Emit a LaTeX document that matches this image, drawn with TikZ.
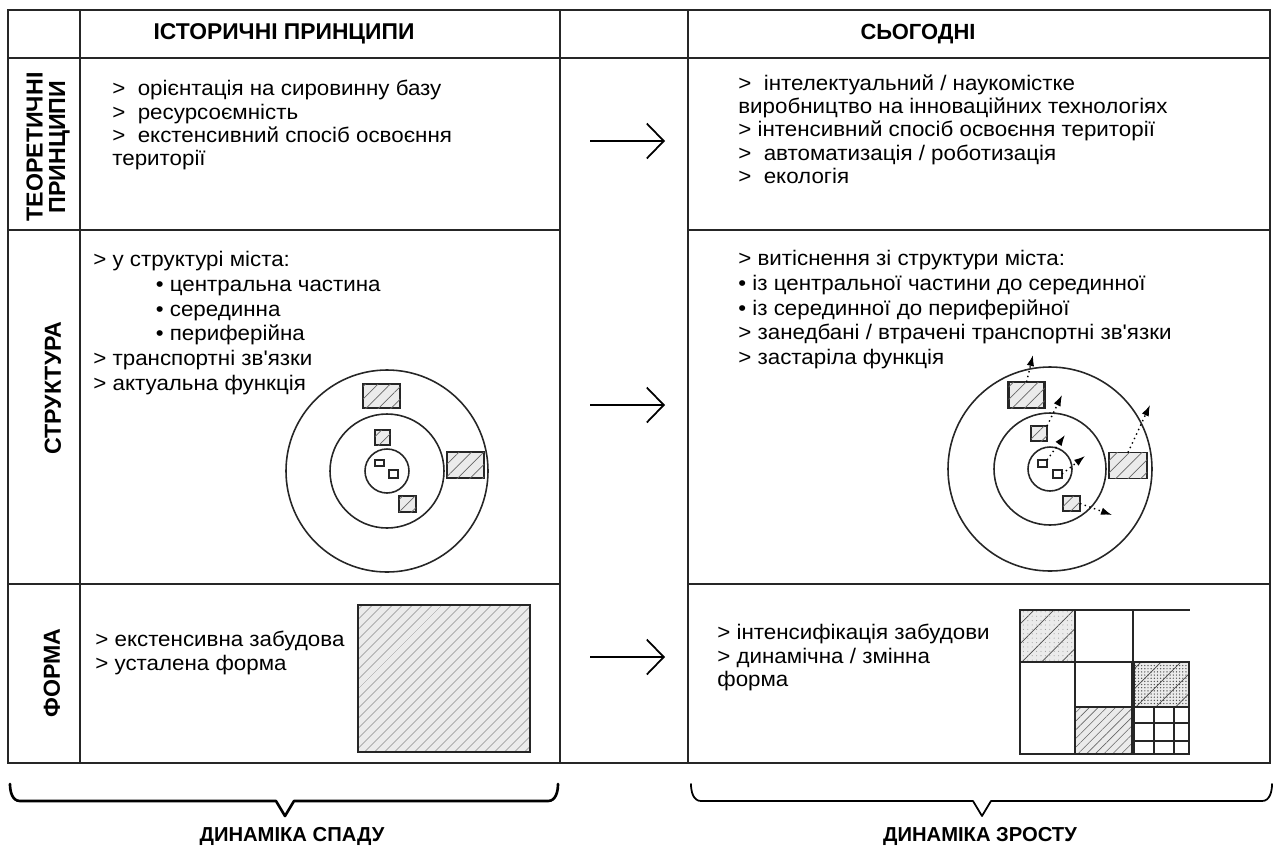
\documentclass[tikz,border=0pt]{standalone}
\usepackage{fontspec}
\setmainfont{Liberation Sans}
\newfontfamily\bodyfont[FakeStretch=1.06]{Liberation Sans}
\usetikzlibrary{arrows.meta, patterns.meta, positioning}

\tikzset{
    tableline/.style={line width=0.9pt, black!85},
    txt/.style={anchor=north west, align=left, inner sep=0pt, font=\bodyfont\fontsize{12}{13.3}\selectfont},
    txtwide/.style={txt, font=\bodyfont\fontsize{12}{14.1}\selectfont},
    headtxt/.style={inner sep=0pt, font=\fontsize{13}{15}\selectfont\bfseries},
    rowlabel/.style={inner sep=0pt, rotate=90, align=center, font=\fontsize{13.2}{12.8}\selectfont\bfseries},
    ring/.style={line width=0.9pt, black!85},
    hatchbox/.style={draw=black!85, line width=0.8pt, rectangle, inner sep=0pt, outer sep=0pt, fill=black!8,
        postaction={pattern color=black!60, pattern={Lines[angle=45, distance=5pt, line width=0.4pt]}}},
    tinybox/.style={draw=black!85, line width=0.8pt, rectangle, inner sep=0pt, outer sep=0pt, fill=white},
    shiftarrow/.style={dotted, line width=0.8pt, -{Latex[length=2.2mm, width=1.5mm]}},
    steparrow/.style={line width=1pt, -{Straight Barb[length=3.4mm, width=7mm]}},
    bracepath/.style={line width=1.5pt, line cap=round, line join=round}
}

\begin{document}
\begin{tikzpicture}[x=0.02cm, y=-0.02cm]
    \def\px{0.02cm}
    \useasboundingbox (0,0) rectangle (1278,849);

    % Table frame
    \draw[tableline] (8,10) rectangle (1270,763);
    \draw[tableline] (8,58) -- (1270,58);
    \draw[tableline] (8,230) -- (560,230) (688,230) -- (1270,230);
    \draw[tableline] (8,584) -- (560,584) (688,584) -- (1270,584);
    \draw[tableline] (80,10) -- (80,763);
    \draw[tableline] (560,10) -- (560,763);
    \draw[tableline] (688,10) -- (688,763);

    % Headers
    \node[headtxt] (hhist) at (284,34) {ІСТОРИЧНІ ПРИНЦИПИ};
    \node[headtxt, font=\fontsize{12.5}{15}\selectfont\bfseries] (htoday) at (918,34) {СЬОГОДНІ};
    \node[rowlabel] (lbltheory) at (48,147) {ТЕОРЕТИЧНІ\\ПРИНЦИПИ};
    \node[rowlabel] (lblstruct) at (53,388) {СТРУКТУРА};
    \node[rowlabel] (lblform) at (52,673) {ФОРМА};

    % Theory row
    \node[txt] (theoryhist) at (112,80) {>~~орієнтація на сировинну базу\\>~~ресурсоємність\\>~~екстенсивний спосіб освоєння\\території};
    \node[txt] (theorytoday) at (738,74) {>~~інтелектуальний / наукомістке\\виробництво на інноваційних технологіях\\> інтенсивний спосіб освоєння території\\>~~автоматизація / роботизація\\>~~екологія};

    % Structure row
    \node[txtwide] (structhist) at (93,251) {> у структурі міста:\\\hspace*{1.25cm}• центральна частина\\\hspace*{1.25cm}• серединна\\\hspace*{1.25cm}• периферійна\\> транспортні зв'язки\\> актуальна функція};
    \node[txtwide] (structtoday) at (738,250) {> витіснення зі структури міста:\\• із центральної частини до серединної\\• із серединної до периферійної\\> занедбані / втрачені транспортні зв'язки\\> застаріла функція};

    % City rings, historic
    \draw[ring] (387,471) circle[radius=101*\px];
    \draw[ring] (387,471) circle[radius=57*\px];
    \draw[ring] (387,471) circle[radius=22*\px];
    \node[hatchbox, minimum width=37*\px, minimum height=24*\px] (hbox1) at (381.5,396) {};
    \node[hatchbox, minimum width=37*\px, minimum height=26*\px] (hbox2) at (465.5,465) {};
    \node[hatchbox, minimum width=15*\px, minimum height=15*\px] (hbox3) at (382.5,437.5) {};
    \node[hatchbox, minimum width=17*\px, minimum height=16*\px] (hbox4) at (407.5,504) {};
    \node[tinybox, minimum width=9*\px, minimum height=6*\px] (hbox5) at (379.5,463) {};
    \node[tinybox, minimum width=9*\px, minimum height=8*\px] (hbox6) at (393.5,474) {};

    % City rings, today
    \draw[ring] (1050,469) circle[radius=102*\px];
    \draw[ring] (1050,469) circle[radius=56*\px];
    \draw[ring] (1050,469) circle[radius=22*\px];
    \node[hatchbox, line width=1.2pt, minimum width=36*\px, minimum height=26*\px] (tbox1) at (1026.5,395) {};
    \node[hatchbox, minimum width=38*\px, minimum height=26*\px] (tbox2) at (1128,465.5) {};
    \node[hatchbox, minimum width=16*\px, minimum height=15*\px] (tbox3) at (1039,433.5) {};
    \node[hatchbox, minimum width=17*\px, minimum height=15*\px] (tbox4) at (1071.5,503.5) {};
    \node[tinybox, minimum width=9*\px, minimum height=7*\px] (tbox5) at (1042.5,463.5) {};
    \node[tinybox, minimum width=9*\px, minimum height=8*\px] (tbox6) at (1057.5,474) {};

    \coordinate (out1) at (1033,355);
    \coordinate (out2) at (1062,395);
    \coordinate (out3) at (1065,435);
    \coordinate (out4) at (1085,456);
    \coordinate (out5) at (1150,405);
    \coordinate (out6) at (1112,515);
    \draw[shiftarrow] (tbox1.north) -- (out1);
    \draw[shiftarrow] (tbox3.north east) -- (out2);
    \draw[shiftarrow] (tbox5.north east) -- (out3);
    \draw[shiftarrow] (tbox6.east) -- (out4);
    \draw[shiftarrow] (tbox2.north) -- (out5);
    \draw[shiftarrow] (tbox4.east) -- (out6);

    % Form row
    \node[txt] (formhist) at (95,631) {> екстенсивна забудова\\> усталена форма};
    \node[txt] (formtoday) at (717,624) {> інтенсифікація забудови\\> динамічна / змінна\\форма};
    \fill[black!8, postaction={pattern color=black!60, pattern={Lines[angle=45, distance=4pt, line width=0.35pt]}}] (358,605) rectangle (530,752);
    \draw[line width=1pt, black!85] (358,605) rectangle (530,752);

    % Form grid, today
    \fill[black!8, postaction={pattern color=black!40, pattern={Dots[distance=2.5pt, radius=0.3pt]}},
        postaction={pattern color=black!70, pattern={Lines[angle=45, distance=8pt, line width=0.4pt]}}] (1020,610) rectangle (1075,662);
    \fill[black!8, postaction={pattern color=black!70, pattern={Dots[distance=1.8pt, radius=0.4pt]}},
        postaction={pattern color=black!70, pattern={Lines[angle=45, distance=8pt, line width=0.4pt]}}] (1133,662) rectangle (1189,707);
    \fill[black!8, postaction={pattern color=black!60, pattern={Lines[angle=45, distance=3.5pt, line width=0.35pt]}}] (1075,707) rectangle (1133,754);
    \draw[line width=1.4pt, black!85] (1020,610) rectangle (1075,662);
    \draw[line width=1pt, black!85] (1020,610) -- (1190,610);
    \draw[line width=1pt, black!85] (1020,610) -- (1020,754) -- (1189,754) -- (1189,662) -- (1020,662);
    \draw[line width=1pt, black!85] (1075,610) -- (1075,754);
    \draw[line width=1pt, black!85] (1133,610) -- (1133,662);
    \draw[line width=1.8pt, black!85] (1133,662) -- (1133,754);
    \draw[line width=1pt, black!85] (1075,707) -- (1189,707);
    \draw[line width=1pt, black!85] (1154,707) -- (1154,754) (1174,707) -- (1174,754);
    \draw[line width=1pt, black!85] (1133,723) -- (1189,723) (1133,741) -- (1189,741);

    % Step arrows
    \foreach \y [count=\i] in {141,405,657} {
        \coordinate (stepa\i) at (590,\y);
        \coordinate (stepb\i) at (665,\y);
        \draw[steparrow] (stepa\i) -- (stepb\i);
    }

    % Braces
    \coordinate (fallL) at (10,784);
    \coordinate (fallR) at (558,784);
    \coordinate (fallTip) at (285,816);
    \draw[bracepath] (fallL) to[out=-90, in=180] (20,801) -- (276,801) -- (fallTip) -- (294,801) -- (548,801) to[out=0, in=-90] (fallR);
    \coordinate (riseL) at (691,784);
    \coordinate (riseR) at (1272,784);
    \coordinate (riseTip) at (982,816);
    \draw[bracepath, line width=1pt] (riseL) to[out=-90, in=180] (701,801) -- (973,801) -- (riseTip) -- (991,801) -- (1262,801) to[out=0, in=-90] (riseR);
    \node[headtxt, font=\fontsize{11.5}{13}\selectfont\bfseries] (dynfall) at (292,836) {ДИНАМІКА СПАДУ};
    \node[headtxt, font=\fontsize{11.5}{13}\selectfont\bfseries] (dynrise) at (980,836) {ДИНАМІКА ЗРОСТУ};
\end{tikzpicture}
\end{document}
